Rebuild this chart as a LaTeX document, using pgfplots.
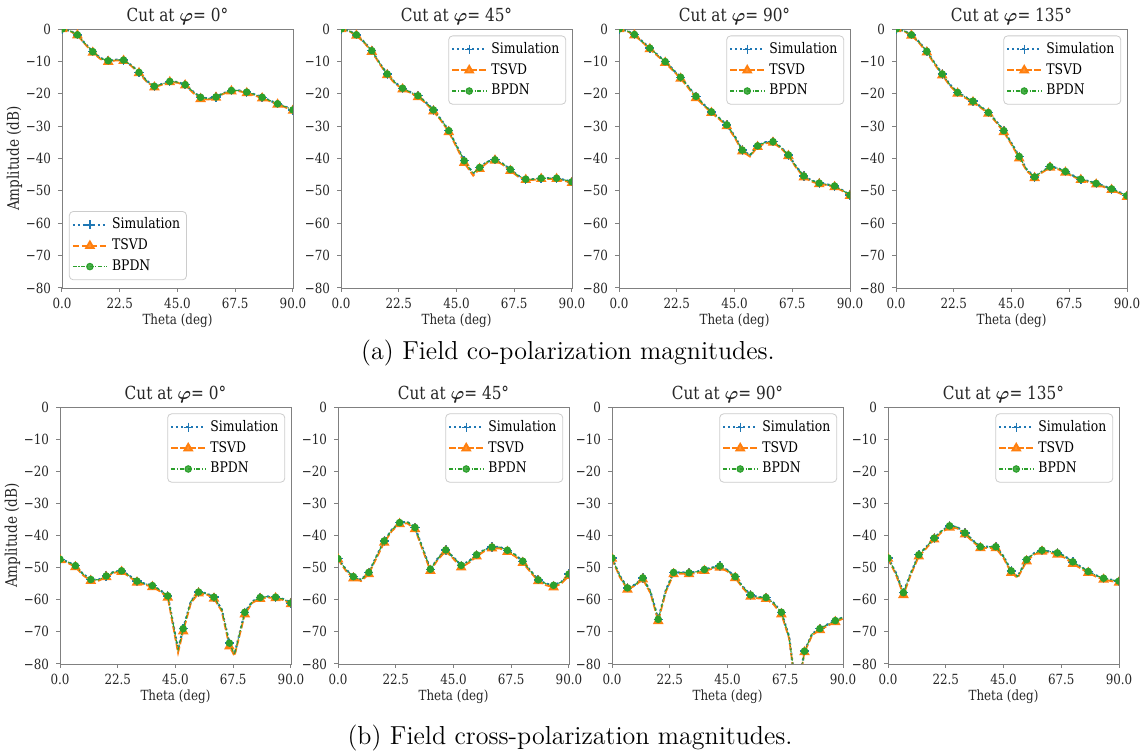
\documentclass[border=0pt]{standalone}
\usepackage{pgfplots}
\pgfplotsset{compat=1.18}
\usepackage{pgfplotstable}
\usepackage{fontspec}
\usepackage{bm}
\newfontfamily\plotfont[FakeStretch=0.85]{DejaVu Serif}
\definecolor{cA}{HTML}{1F77B4}
\definecolor{cB}{HTML}{FF7F0E}
\definecolor{cC}{HTML}{2CA02C}

% co-polarization
\pgfplotstableread{
t s v b
0 0 0 0
3 -0.5 -0.6 -0.5
6 -1.8 -1.9 -1.8
9 -4.5 -4.7 -4.5
12 -7.0 -7.3 -7.0
15 -9.0 -9.3 -9.0
18 -9.8 -10.1 -9.8
21 -9.5 -9.7 -9.5
24 -9.6 -9.8 -9.6
27 -11.2 -11.4 -11.2
30 -13.4 -13.6 -13.4
33 -16.0 -16.3 -16.0
36 -17.7 -18.0 -17.7
39 -17.0 -17.2 -17.0
42 -16.2 -16.4 -16.2
45 -16.4 -16.6 -16.4
48 -17.2 -17.4 -17.2
51 -19.3 -19.7 -19.3
54 -21.1 -21.6 -21.1
57 -21.5 -21.8 -21.5
60 -21.0 -21.2 -21.0
63 -19.8 -20.0 -19.8
66 -19.0 -19.2 -19.0
69 -19.0 -19.2 -19.0
72 -19.5 -19.8 -19.5
75 -20.2 -20.5 -20.2
78 -21.1 -21.4 -21.1
81 -22.1 -22.3 -22.1
84 -23.1 -23.3 -23.1
87 -24.0 -24.2 -24.0
90 -25.0 -25.2 -25.0
}\tAa
\pgfplotstableread{
t s v b
0 0 0 0
3 -0.5 -0.6 -0.5
6 -1.8 -2.0 -1.8
9 -4.0 -4.2 -4.0
12 -6.7 -7.0 -6.7
15 -10.5 -10.7 -10.5
18 -13.9 -14.2 -13.9
21 -16.5 -16.8 -16.5
24 -18.3 -18.6 -18.3
27 -19.5 -19.7 -19.5
30 -20.6 -21.0 -20.6
33 -22.6 -22.9 -22.6
36 -25.0 -25.4 -25.0
39 -28.0 -28.3 -28.0
42 -31.4 -31.8 -31.4
45 -36.0 -36.5 -36.0
48 -40.7 -41.3 -40.7
51.5 -44.6 -45.3 -44.6
54 -42.8 -43.2 -42.8
57 -41.0 -41.3 -41.0
60 -40.4 -40.6 -40.4
63 -41.6 -41.9 -41.6
66 -43.4 -43.8 -43.4
69 -45.3 -45.6 -45.3
72 -46.4 -46.6 -46.4
75 -46.4 -46.6 -46.4
78 -46.1 -46.3 -46.1
81 -46.1 -46.3 -46.1
84 -46.1 -46.3 -46.1
87 -46.6 -46.9 -46.6
90 -47.2 -47.5 -47.2
}\tAb
\pgfplotstableread{
t s v b
0 0 0 0
3 -0.5 -0.6 -0.5
6 -1.7 -1.9 -1.7
9 -3.8 -4.0 -3.8
12 -5.9 -6.2 -5.9
15 -8.0 -8.3 -8.0
18 -10.1 -10.4 -10.1
21 -12.5 -12.8 -12.5
24 -14.9 -15.3 -14.9
27 -17.8 -18.2 -17.8
30 -20.8 -21.3 -20.8
33 -23.3 -23.6 -23.3
36 -25.6 -25.9 -25.6
39 -27.5 -27.8 -27.5
42 -29.6 -30.0 -29.6
45 -33.0 -33.4 -33.0
48 -37.4 -37.8 -37.4
51 -39.0 -39.4 -39.0
54 -36.1 -36.4 -36.1
57 -35.0 -35.3 -35.0
60 -34.8 -35.1 -34.8
63 -36.5 -36.8 -36.5
66 -38.9 -39.2 -38.9
69 -42.5 -42.8 -42.5
72 -45.4 -45.8 -45.4
75 -46.8 -47.1 -46.8
78 -47.6 -47.9 -47.6
81 -48.0 -48.2 -48.0
84 -48.5 -48.8 -48.5
87 -49.8 -50.0 -49.8
90 -51.3 -51.5 -51.3
}\tAc
\pgfplotstableread{
t s v b
0 0 0 0
3 -0.5 -0.6 -0.5
6 -1.8 -2.0 -1.8
9 -4.0 -4.3 -4.0
12 -6.9 -7.2 -6.9
15 -10.5 -10.8 -10.5
18 -13.9 -14.3 -13.9
21 -17.2 -17.5 -17.2
24 -19.6 -19.9 -19.6
27 -21.0 -21.3 -21.0
30 -22.3 -22.6 -22.3
33 -24.0 -24.3 -24.0
36 -25.8 -26.1 -25.8
39 -28.5 -28.8 -28.5
42 -31.4 -31.8 -31.4
45 -35.3 -35.7 -35.3
48 -39.4 -39.9 -39.4
51 -43.5 -43.9 -43.5
54 -45.7 -46.0 -45.7
57 -44.0 -44.3 -44.0
60 -42.5 -42.8 -42.5
63 -43.0 -43.3 -43.0
66 -44.0 -44.3 -44.0
69 -45.3 -45.6 -45.3
72 -46.4 -46.6 -46.4
75 -47.0 -47.3 -47.0
78 -47.7 -48.0 -47.7
81 -48.5 -48.8 -48.5
84 -49.4 -49.7 -49.4
87 -50.4 -50.7 -50.4
90 -51.5 -51.8 -51.5
}\tAd

% cross-polarization
\pgfplotstableread{
t s v b
0 -47.4 -47.6 -47.4
3 -48.2 -48.5 -48.2
6 -49.4 -49.8 -49.4
9 -52.0 -52.4 -52.0
12 -53.7 -54.1 -53.7
15 -53.8 -54.1 -53.8
18 -52.6 -52.9 -52.6
21 -51.3 -51.6 -51.3
24 -51.0 -51.3 -51.0
27 -52.5 -52.8 -52.5
30 -54.2 -54.6 -54.2
33 -55.0 -55.3 -55.0
36 -55.6 -56.0 -55.6
39 -57.0 -57.4 -57.0
42 -58.8 -59.3 -58.8
46 -75.5 -76.5 -75.5
48 -69.0 -69.8 -69.0
51 -60.5 -61.0 -60.5
54 -57.6 -58.0 -57.6
57 -58.0 -58.3 -58.0
60 -59.2 -59.6 -59.2
63 -63.0 -63.5 -63.0
66 -73.5 -74.5 -73.5
68 -77.0 -77.5 -77.0
72 -63.9 -64.5 -63.9
75 -60.5 -60.9 -60.5
78 -59.3 -59.7 -59.3
81 -59.0 -59.3 -59.0
84 -59.2 -59.5 -59.2
87 -59.8 -60.1 -59.8
90 -61.0 -61.3 -61.0
}\tBa
\pgfplotstableread{
t s v b
0 -47.2 -47.4 -47.2
3 -50.5 -50.9 -50.5
6 -52.8 -53.3 -52.8
9 -53.8 -54.2 -53.8
12 -51.5 -52.0 -51.5
15 -46.5 -47.0 -46.5
18 -41.7 -42.2 -41.7
21 -38.2 -38.6 -38.2
24 -36.0 -36.4 -36.0
27 -35.8 -36.2 -35.8
30 -37.5 -38.0 -37.5
33 -44.0 -44.5 -44.0
36 -50.5 -51.0 -50.5
39 -47.0 -47.4 -47.0
42 -44.5 -44.9 -44.5
45 -46.8 -47.3 -46.8
48 -49.3 -49.9 -49.3
51 -48.0 -48.5 -48.0
54 -46.0 -46.5 -46.0
57 -44.5 -44.9 -44.5
60 -43.6 -44.0 -43.6
63 -43.6 -44.0 -43.6
66 -44.6 -45.1 -44.6
69 -46.0 -46.5 -46.0
72 -48.0 -48.5 -48.0
75 -51.0 -51.4 -51.0
78 -53.8 -54.2 -53.8
81 -55.0 -55.5 -55.0
84 -55.5 -56.1 -55.5
87 -54.5 -55.0 -54.5
90 -52.0 -52.5 -52.0
}\tBb
\pgfplotstableread{
t s v b
0 -47.0 -47.2 -47.0
3 -52.5 -52.9 -52.5
6 -56.3 -56.8 -56.3
9 -55.3 -55.6 -55.3
12 -53.2 -53.6 -53.2
15 -57.5 -58.0 -57.5
18 -66.1 -66.6 -66.1
21 -57.0 -57.5 -57.0
24 -51.5 -52.0 -51.5
27 -51.5 -51.9 -51.5
30 -51.6 -52.0 -51.6
33 -51.3 -51.7 -51.3
36 -50.6 -51.0 -50.6
39 -50.0 -50.4 -50.0
42 -49.5 -50.0 -49.5
45 -50.8 -51.2 -50.8
48 -52.8 -53.2 -52.8
51 -56.0 -56.4 -56.0
54 -58.5 -59.0 -58.5
57 -59.2 -59.6 -59.2
60 -59.3 -59.7 -59.3
63 -61.0 -61.5 -61.0
66 -63.9 -64.5 -63.9
69 -71.5 -72.0 -71.5
72 -90.0 -90.0 -90.0
75 -76.0 -76.3 -76.0
78 -70.6 -71.0 -70.6
81 -69.0 -69.4 -69.0
84 -67.7 -68.1 -67.7
87 -66.5 -66.9 -66.5
90 -65.5 -65.9 -65.5
}\tBc
\pgfplotstableread{
t s v b
0 -47.0 -47.2 -47.0
3 -51.5 -52.0 -51.5
6 -57.8 -58.5 -57.8
9 -51.5 -52.0 -51.5
12 -46.0 -46.5 -46.0
15 -43.5 -43.9 -43.5
18 -40.8 -41.2 -40.8
21 -38.5 -38.9 -38.5
24 -37.0 -37.5 -37.0
27 -37.4 -37.8 -37.4
30 -39.2 -39.6 -39.2
33 -41.5 -41.9 -41.5
36 -43.5 -43.9 -43.5
39 -43.5 -43.9 -43.5
42 -43.5 -43.9 -43.5
45 -46.5 -47.0 -46.5
48 -51.0 -51.6 -51.0
50.5 -52.8 -53.2 -52.8
54 -47.5 -48.0 -47.5
57 -45.5 -45.9 -45.5
60 -44.6 -45.0 -44.6
63 -45.0 -45.4 -45.0
66 -45.4 -45.9 -45.4
69 -46.5 -47.0 -46.5
72 -48.2 -48.8 -48.2
75 -49.7 -50.2 -49.7
78 -51.2 -51.6 -51.2
81 -52.4 -52.8 -52.4
84 -53.3 -53.7 -53.3
87 -53.8 -54.2 -53.8
90 -54.2 -54.6 -54.2
}\tBd

\pgfplotsset{
  panel/.style={
    scale only axis, width=115.5pt, anchor=south west,
    xmin=0, xmax=90, ymin=-80, ymax=0,
    xtick={0,22.5,45,67.5,90},
    xticklabels={0.0,22.5,45.0,67.5,90.0},
    ytick={-80,-70,-60,-50,-40,-30,-20,-10,0},
    yticklabels={−80,−70,−60,−50,−40,−30,−20,−10,0},
    xtick pos=bottom, ytick pos=left,
    tick align=outside, major tick length=2pt,
    axis line style={black!50}, tick style={black!50, line width=0.5pt},
    tick label style={font=\plotfont\fontsize{7}{8}\selectfont, text=black!85},
    xticklabel style={yshift=0.5pt},
    label style={font=\plotfont\fontsize{7}{8}\selectfont, text=black!85},
    ylabel style={font=\plotfont\fontsize{8}{9}\selectfont, yshift=-5pt},
    title style={font=\plotfont\fontsize{9}{10}\selectfont, text=black!85, yshift=-7.5pt},
    xlabel={Theta (deg)},
    xlabel style={yshift=4.5pt},
    clip marker paths=true,
    legend cell align=left,
    legend style={font=\plotfont\fontsize{7.3}{8.5}\selectfont, draw=black!20, rounded corners=2pt,
      fill=white, fill opacity=0.85, text opacity=1, inner sep=1.2pt, row sep=-0.5pt,
      at={(0.975,0.975)}, anchor=north east},
  },
  simstyle/.style={color=cA, line width=1.1pt, dash pattern=on 1.1pt off 1.4pt,
    mark=+, mark size=2.3pt, mark repeat=2, mark options={solid, line width=0.7pt}},
  tsvdstyle/.style={color=cB, line width=0.9pt, dash pattern=on 3.2pt off 1.3pt,
    mark=triangle*, mark size=2.2pt, mark repeat=2, mark options={solid}},
  bpdnstyle/.style={color=cC, line width=0.55pt, dash pattern=on 2pt off 0.8pt on 0.6pt off 0.8pt,
    mark=*, mark size=1.6pt, mark repeat=2, mark options={solid}},
}

\newcommand{\panel}[5]{%
\begin{axis}[panel, at={(#1,#2)}, title={#4}, #5]
\addplot[simstyle] table[x=t,y=s]{#3};
\addplot[tsvdstyle] table[x=t,y=v]{#3};
\addplot[bpdnstyle] table[x=t,y=b]{#3};
\legend{Simulation,TSVD,BPDN}
\end{axis}}

\begin{document}
\begin{tikzpicture}
\useasboundingbox (0,0) rectangle (572pt,376.5pt);
% top row
\panel{31pt}{232.5pt}{\tAa}{Cut at $\bm{\varphi}$= 0°}{height=129.5pt, ylabel={Amplitude (dB)}, legend style={at={(0.03,0.03)}, anchor=south west}}
\panel{170.5pt}{232.5pt}{\tAb}{Cut at $\bm{\varphi}$= 45°}{height=129.5pt}
\panel{309.5pt}{232.5pt}{\tAc}{Cut at $\bm{\varphi}$= 90°}{height=129.5pt}
\panel{448pt}{232.5pt}{\tAd}{Cut at $\bm{\varphi}$= 135°}{height=129.5pt}
% bottom row
\panel{30pt}{44.5pt}{\tBa}{Cut at $\bm{\varphi}$= 0°}{height=128.5pt, ylabel={Amplitude (dB)}}
\panel{169pt}{44.5pt}{\tBb}{Cut at $\bm{\varphi}$= 45°}{height=128.5pt}
\panel{306pt}{44.5pt}{\tBc}{Cut at $\bm{\varphi}$= 90°}{height=128.5pt}
\panel{444pt}{44.5pt}{\tBd}{Cut at $\bm{\varphi}$= 135°}{height=128.5pt}
% captions
\node[font=\fontsize{13}{15}\selectfont] at (284pt,200pt) {(a) Field co-polarization magnitudes.};
\node[font=\fontsize{13}{15}\selectfont] at (285pt,7.5pt) {(b) Field cross-polarization magnitudes.};
\end{tikzpicture}
\end{document}
